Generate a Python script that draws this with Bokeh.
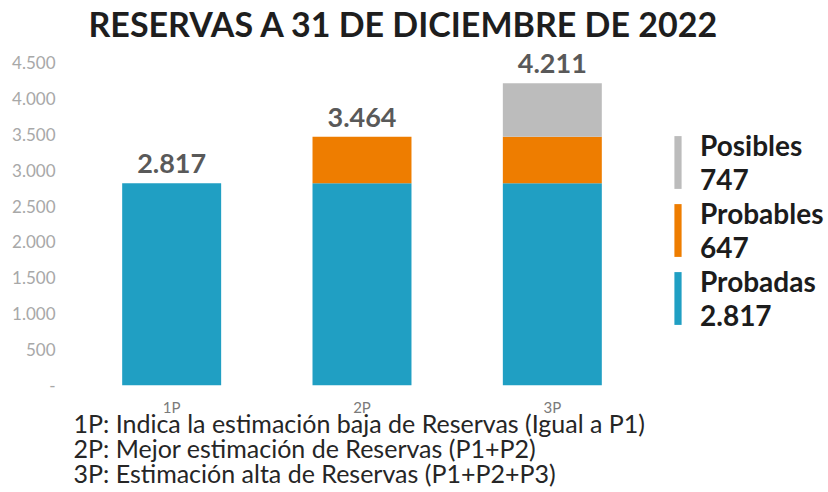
from bokeh.plotting import figure
from bokeh.models import ColumnDataSource, LabelSet, Label, Legend, LegendItem, FixedTicker, Title, Range1d
from bokeh.core.properties import value
from bokeh.embed import file_html
from bokeh.resources import INLINE

# ---- data ----
categories = ["1P", "2P", "3P"]
probadas = [2817, 2817, 2817]
probables = [0, 647, 647]
posibles = [0, 0, 747]
totals = [2817, 3464, 4211]
total_labels = ["2.817", "3.464", "4.211"]
y_ticks = [0, 500, 1000, 1500, 2000, 2500, 3000, 3500, 4000, 4500]
y_tick_labels = ["-", "500", "1.000", "1.500", "2.000", "2.500", "3.000", "3.500", "4.000", "4.500"]
series_names = ["Probadas", "Probables", "Posibles"]
series_values = ["2.817", "647", "747"]
series_colors = ["#209fc3", "#ee7d00", "#bcbcbc"]
title_text = "RESERVAS A 31 DE DICIEMBRE DE 2022"
notes = [
    "1P: Indica la estimación baja de Reservas (Igual a P1)",
    "2P: Mejor estimación de Reservas (P1+P2)",
    "3P: Estimación alta de Reservas (P1+P2+P3)",
]

FONT = "Lato"

xpos = list(range(1, len(categories) + 1))
src = ColumnDataSource(dict(x=xpos, cat=categories, probadas=probadas, probables=probables,
                            posibles=posibles, total=totals, label=total_labels))

# ---- layout (pixels) ----
W, H = 828, 492
LEFT, BOTTOM = 76, 107
frame_h = H - BOTTOM            # frame spans from canvas top to the x axis
axis_top_px = 323               # pixel height of the y span 0..4500
slot_px = 190.33                # pixel width of one category slot
x_end = 0.5 + (W - LEFT) / slot_px
y_end = y_ticks[-1] * frame_h / axis_top_px

p = figure(x_range=Range1d(0.5, x_end), y_range=Range1d(0, y_end), width=W, height=H,
           output_backend="svg", toolbar_location=None, title=None,
           min_border_left=LEFT, min_border_right=0, min_border_top=0, min_border_bottom=BOTTOM)
p.outline_line_color = None
p.background_fill_color = "white"
p.border_fill_color = "white"
p.xgrid.grid_line_color = None
p.ygrid.grid_line_color = None

renderers = p.vbar_stack(["probadas", "probables", "posibles"], x="x", width=0.52,
                         color=series_colors, line_color=None, source=src)

p.add_layout(LabelSet(x="x", y="total", text="label", source=src, text_align="center",
                      text_baseline="alphabetic", y_offset=10, text_font=value(FONT),
                      text_font_style="bold", text_font_size="27px", text_color="#595959"))

# axes
p.xaxis.ticker = FixedTicker(ticks=xpos)
p.xaxis.major_label_overrides = {x: c for x, c in zip(xpos, categories)}
p.yaxis.ticker = FixedTicker(ticks=y_ticks)
p.yaxis.major_label_overrides = {t: l for t, l in zip(y_ticks, y_tick_labels)}
for ax in (p.xaxis[0], p.yaxis[0]):
    ax.axis_line_color = None
    ax.major_tick_line_color = None
    ax.minor_tick_line_color = None
    ax.major_tick_out = 0
    ax.minor_tick_out = 0
    ax.major_label_text_font = FONT
p.yaxis.major_label_text_font_size = "17px"
p.yaxis.major_label_text_color = "#a8a8a8"
p.yaxis.major_label_standoff = 21
p.xaxis.major_label_text_font_size = "15px"
p.xaxis.major_label_text_color = "#7a7a7a"
p.xaxis.major_label_standoff = 12

# legend
items = []
for i in [2, 1, 0]:
    items.append(LegendItem(label=series_names[i] + "\n" + series_values[i], renderers=[renderers[i]]))
legend = Legend(items=items, location=(597, 53), padding=0, spacing=0, margin=0,
                glyph_width=9, glyph_height=66, label_standoff=18,
                label_text_font=FONT, label_text_font_style="bold",
                label_text_font_size="28px", label_text_color="#1c1c1c",
                label_text_line_height=1.11,
                border_line_color=None, background_fill_alpha=0)
p.add_layout(legend, "center")

# title (inside the top of the frame)
p.add_layout(Label(x=12, y=frame_h - 23, x_units="screen", y_units="screen", text=title_text,
                   text_font=FONT, text_font_style="bold", text_font_size="34px",
                   text_color="#1e1e1e", text_baseline="alphabetic"))

# footnotes
p.add_layout(Title(text="\n".join(notes), align="left", offset=-3, standoff=-24,
                   text_font=FONT, text_font_style="normal", text_font_size="25px",
                   text_color="#262626", text_line_height=0.835), "below")

open("out.html", "w").write(file_html(p, INLINE))
